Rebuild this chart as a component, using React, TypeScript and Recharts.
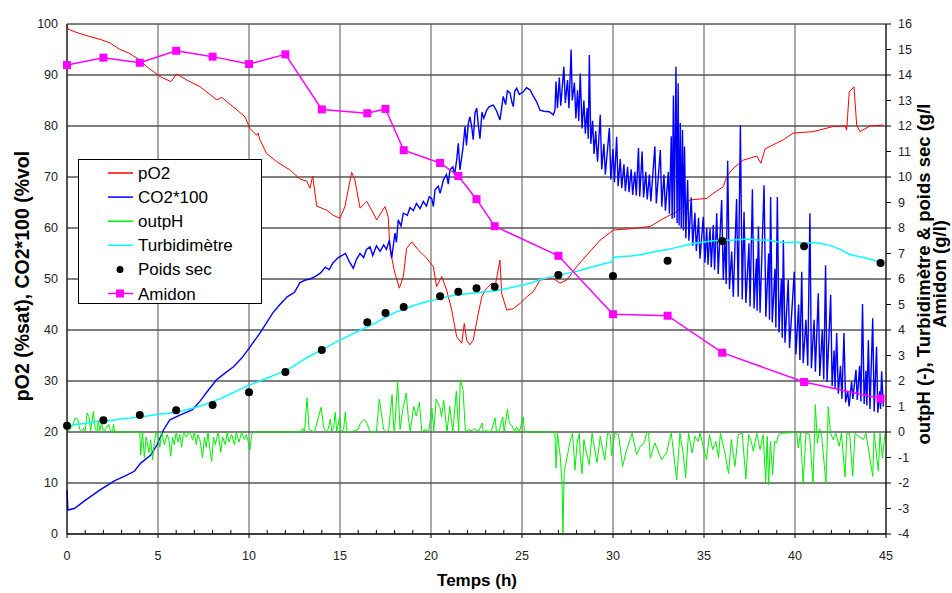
import {
  CartesianGrid,
  ComposedChart,
  Legend,
  Line,
  Scatter,
  XAxis,
  YAxis,
} from "recharts";

type Pt = [number, number];

// axis ticks
const hourTicks = [
  0, 1, 2, 3, 4, 5, 6, 7, 8, 9, 10, 11, 12, 13, 14, 15, 16, 17, 18, 19, 20, 21, 22,
  23, 24, 25, 26, 27, 28, 29, 30, 31, 32, 33, 34, 35, 36, 37, 38, 39, 40, 41, 42, 43,
  44, 45,
];
const majorHours = [0, 5, 10, 15, 20, 25, 30, 35, 40, 45];
const leftTicks = [0, 10, 20, 30, 40, 50, 60, 70, 80, 90, 100];
const rightTicks = [-4, -3, -2, -1, 0, 1, 2, 3, 4, 5, 6, 7, 8, 9, 10, 11, 12, 13, 14, 15, 16];

// pO2 (%sat), left axis
const po2: Pt[] = [
  [0, 100], [0.05, 99], [0.55, 98.3], [1.2, 97.6], [1.81, 97], [2.36, 96.3], [2.91, 95],
  [3.4, 94.3], [3.85, 93.3], [4.4, 91.6], [5.11, 89.7], [5.71, 88.7], [6.03, 90.2],
  [6.59, 89], [7.31, 87.7], [8.24, 85.1], [8.5, 85.6], [9.12, 83.8], [9.78, 81.8],
  [10.05, 79.5], [10.42, 78.2], [10.5, 78.6], [10.6, 77.3], [10.97, 74.6], [11.52, 73],
  [12.25, 71.4], [12.8, 69.6], [13.17, 69.2], [13.35, 67.8], [13.5, 70.2], [13.72, 64.3],
  [14.27, 63.5], [14.62, 62.5], [15.0, 61.9], [15.27, 64.2], [15.64, 70.9], [15.82, 69.4],
  [16.1, 63.9], [16.47, 65.2], [16.74, 63.5], [17.02, 61.6], [17.47, 64.2], [17.65, 62.2],
  [17.75, 55.7], [18.02, 51.1], [18.26, 48.2], [18.48, 50.5], [18.66, 56], [18.94, 57.3],
  [19.3, 55.7], [19.76, 54.1], [20.13, 52.4], [20.31, 48.5], [20.59, 50.5], [20.86, 47.8],
  [21.14, 43.9], [21.41, 38.7], [21.69, 37.4], [21.83, 41.3], [21.96, 38], [22.14, 37.1],
  [22.32, 38], [22.6, 43.3], [22.79, 46.5], [22.97, 47.8], [23.34, 49.2], [23.52, 48.5],
  [23.79, 53.7], [23.88, 47.2], [24.16, 43.9], [24.52, 44.2], [24.89, 45.2], [25.26, 46.5],
  [25.62, 47.5], [25.99, 49.8], [26.72, 50.1], [27.09, 49.2], [27.46, 49.8], [28.0, 52.4],
  [28.56, 54.7], [29.29, 57.6], [30.02, 59.6], [31.12, 59.9], [32.03, 60.3], [32.95, 62.2],
  [33.5, 63.2], [34.23, 65.5], [35.15, 65.8], [35.51, 66.8], [36.06, 68.1], [36.25, 70.1],
  [36.61, 71.7], [37.16, 73.3], [37.9, 74.1], [38.13, 72.7], [38.35, 75.5], [39.36, 77.3],
  [39.9, 78.6], [41.0, 78.9], [42.1, 79.9], [42.75, 80], [42.84, 79.2], [42.98, 86.7],
  [43.24, 87.7], [43.39, 80.2], [43.57, 78.9], [44.12, 80], [44.85, 80.2],
];

// CO2*100 (%vol), left axis
const co2: Pt[] = [
  [0, 8.6], [0.05, 4.7], [0.4, 5.0], [1.0, 6.6], [1.8, 8.6], [2.6, 10.4], [3.2, 11.4],
  [3.7, 12.3], [4.05, 13.9], [4.6, 15.5], [4.95, 17.5], [5.3, 20.4], [5.65, 22.4],
  [6.2, 23.3], [6.9, 24.4], [7.3, 26], [7.7, 27.9], [8.2, 30.2], [8.7, 31.6], [9.15, 32.8],
  [9.6, 34.5], [10.0, 36.4], [10.6, 39.4], [11.3, 43.3], [11.7, 45], [12.1, 46.5],
  [12.5, 47.4], [12.8, 49.3], [13.1, 49.8], [13.35, 50], [13.6, 50.4], [13.9, 51.1],
  [14.2, 52.3], [14.4, 51.8], [14.6, 53.1], [14.9, 54.2], [15.1, 54.6], [15.3, 55.0],
  [15.5, 53.5], [15.73, 52.1], [15.9, 53.8], [16.1, 55], [16.3, 54.2], [16.45, 55.8],
  [16.65, 56.3], [16.8, 54.6], [17.0, 56.5], [17.2, 55.4], [17.4, 56.7], [17.55, 55.8],
  [17.71, 57.6], [17.84, 54.1], [18.02, 59], [18.1, 57.2], [18.2, 61.6], [18.35, 60.4],
  [18.48, 62.9], [18.7, 62.5], [18.85, 64.0], [19.03, 63.4], [19.2, 64.8], [19.4, 63.8],
  [19.58, 65.2], [19.75, 64.3], [19.9, 66.1], [20.04, 65.8], [20.13, 64.2], [20.22, 67.5],
  [20.4, 68.2], [20.5, 66.8], [20.68, 69.4], [20.85, 70.5], [20.95, 68.6], [21.04, 71.4],
  [21.2, 72], [21.3, 70.5], [21.41, 73.3], [21.5, 76.6], [21.59, 71.4], [21.75, 75.5],
  [21.87, 79.9], [21.95, 76.2], [22.05, 80.5], [22.14, 81.8], [22.25, 79.5], [22.32, 77.3],
  [22.42, 82.6], [22.51, 83.5], [22.6, 80.2], [22.69, 77.5], [22.8, 82.7], [22.9, 81.5],
  [23.06, 83.1], [23.2, 83.8], [23.42, 84.1], [23.6, 83], [23.79, 81.2], [23.97, 85.8],
  [24.1, 84.2], [24.2, 86.9], [24.34, 86.5], [24.45, 84.6], [24.52, 83.8], [24.6, 86.8],
  [24.71, 87.4], [24.85, 86.2], [25.07, 86.7], [25.25, 87.5], [25.44, 87.1], [25.6, 86],
  [25.81, 84.7], [25.99, 83.1], [26.2, 82.9], [26.5, 82.8], [26.72, 82.2], [26.81, 83.1],
  [26.87, 88.7], [26.95, 83.5], [27.05, 89.5], [27.13, 84], [27.3, 91.6], [27.38, 84.5],
  [27.5, 89], [27.58, 83.5], [27.7, 95], [27.76, 85], [27.88, 88.5], [27.96, 81.5],
  [28.05, 87], [28.12, 81], [28.2, 90.3], [28.3, 79.5], [28.4, 85], [28.48, 78.5],
  [28.58, 83.5], [28.64, 77.5], [28.7, 93.9], [28.78, 76.5], [28.88, 81], [28.96, 74.5],
  [29.05, 79], [29.15, 73], [29.3, 82.2], [29.38, 71.5], [29.5, 76.5], [29.58, 70.5],
  [29.8, 79.6], [29.88, 69.5], [30.0, 75.5], [30.08, 69], [30.2, 77.9], [30.28, 68.2],
  [30.4, 73.5], [30.48, 67.8], [30.6, 72.5], [30.68, 67.2], [30.8, 72], [30.88, 67],
  [31.0, 71.5], [31.08, 66.5], [31.2, 71], [31.28, 66.4], [31.4, 75.7], [31.47, 66.2],
  [31.6, 75], [31.68, 66], [31.8, 71], [31.88, 65.6], [32.0, 70.5], [32.08, 65.2],
  [32.3, 76], [32.38, 64.8], [32.6, 75.3], [32.68, 64.2], [32.8, 70.5], [32.88, 63.4],
  [33.04, 71], [33.1, 62.8], [33.2, 78], [33.25, 61.8], [33.32, 86], [33.37, 62],
  [33.46, 91.6], [33.52, 61], [33.58, 88.4], [33.63, 60.5], [33.7, 80.6], [33.75, 60],
  [33.82, 79.2], [33.87, 59.5], [33.93, 76], [34.0, 58], [34.1, 69.4], [34.17, 57.5],
  [34.3, 66], [34.38, 56.5], [34.5, 63], [34.58, 55.5], [34.7, 62], [34.78, 54],
  [34.96, 62.2], [35.05, 53.2], [35.15, 60], [35.22, 52.8], [35.33, 59.9], [35.4, 52.3],
  [35.51, 60.6], [35.58, 51.8], [35.7, 62.9], [35.78, 51], [35.97, 65.5], [36.06, 49.8],
  [36.15, 58], [36.22, 49], [36.3, 73.2], [36.4, 48], [36.52, 55.4], [36.61, 46.5],
  [36.79, 65.7], [36.88, 46.5], [37.0, 80.2], [37.1, 46], [37.2, 63.2], [37.3, 45.3],
  [37.47, 57], [37.53, 44.6], [37.66, 67.6], [37.75, 44.2], [37.88, 54], [37.92, 43.8],
  [37.99, 60.3], [38.08, 43.4], [38.3, 68.4], [38.4, 42.6], [38.55, 55], [38.6, 42],
  [38.66, 66.1], [38.75, 41.5], [38.9, 52], [38.95, 40.5], [39.03, 66.1], [39.12, 39.5],
  [39.25, 50], [39.3, 38.5], [39.36, 57.6], [39.45, 37.5], [39.63, 49.8], [39.7, 36.5],
  [39.96, 51.4], [40.05, 35.2], [40.2, 45], [40.27, 34.1], [40.37, 51.4], [40.45, 33.5],
  [40.6, 42], [40.7, 33], [40.82, 62.9], [40.9, 32.5], [41.05, 42], [41.12, 31.8],
  [41.28, 47.2], [41.36, 31], [41.5, 40], [41.58, 30.3], [41.68, 52.7], [41.76, 29.8],
  [41.96, 46.9], [42.04, 29], [42.15, 36], [42.2, 28.5], [42.29, 39.4], [42.38, 27.5],
  [42.5, 33], [42.58, 26.5], [42.69, 39.4], [42.78, 25.8], [42.9, 28], [42.97, 25],
  [43.11, 29.9], [43.18, 26.5], [43.35, 32.2], [43.42, 26.3], [43.55, 33], [43.62, 26],
  [43.71, 45.1], [43.8, 25.5], [43.9, 32], [43.95, 25.2], [44.03, 38], [44.12, 24.5],
  [44.27, 42.3], [44.35, 24], [44.48, 36.7], [44.55, 23.8], [44.65, 28], [44.7, 24.5],
  [44.76, 31.9], [44.85, 25],
];

// outpH (-), right axis
const outpH: Pt[] = [
  [0, 0], [0.15, 0.1], [0.3, 0.25], [0.45, 0.55], [0.6, 0.5], [0.7, 0.1], [0.8, 0],
  [0.9, 0.15], [1.0, 0.05], [1.1, 0.75], [1.2, 0.6], [1.3, 0.05], [1.45, 0.8], [1.55, 0.15],
  [1.65, 0], [1.72, 0.45], [1.8, 0.05], [1.9, 0.35], [2.0, 0], [2.15, 0.15], [2.3, 0.3],
  [2.4, 0], [2.5, 0], [2.55, 0.3], [2.62, 0], [4.0, 0],
  [4.05, -0.9], [4.15, 0], [4.25, -1.0], [4.35, -0.2], [4.5, -0.8], [4.6, -0.3], [4.7, -1.1],
  [4.8, -0.4], [4.9, 0], [5.0, -0.2], [5.1, -0.6], [5.2, 0], [5.35, -0.5], [5.5, -0.1],
  [5.6, -0.3], [5.7, -0.95], [5.8, -0.2], [5.9, -0.5], [6.0, 0], [6.1, -0.4], [6.2, -0.1],
  [6.3, -0.6], [6.4, 0], [6.55, -0.2], [6.7, 0], [6.8, -0.1], [6.9, -0.3], [7.0, 0],
  [7.1, -0.5], [7.2, -0.1], [7.3, -0.3], [7.45, -1.0], [7.55, -0.2], [7.65, -0.6], [7.75, 0],
  [7.85, -0.7], [7.95, -1.15], [8.05, -0.2], [8.15, -0.5], [8.3, 0], [8.45, -0.8],
  [8.55, -0.2], [8.7, -0.5], [8.8, 0], [8.9, -0.4], [9.05, -0.1], [9.2, -0.5], [9.3, 0],
  [9.45, -0.4], [9.6, 0], [9.75, -0.3], [9.85, -0.1], [10.0, -0.5], [10.05, -0.7],
  [10.15, -0.1], [10.25, 0], [12.8, 0],
  [12.95, 0.15], [13.05, 0], [13.19, 1.33], [13.3, 0.1], [13.45, 0.05], [13.6, 0],
  [13.96, 0.97], [14.1, 0.2], [14.2, 0], [14.35, 0.1], [14.47, 0.5], [14.55, 0], [14.65, 0.2],
  [14.74, 0.77], [14.82, 0], [14.98, 0.58], [15.05, 0], [15.2, 0.1], [15.29, 0.77],
  [15.38, 0], [15.57, 0], [16.0, 0.1], [16.12, 0.35], [16.3, 0.48], [16.45, 0.4], [16.6, 0.1],
  [16.67, 0], [17.0, 0], [17.16, 1.29], [17.3, 0.6], [17.4, 0.1], [17.55, 0], [17.67, 0.05],
  [17.86, 1.46], [17.95, 0.2], [17.99, 0], [18.17, 1.99], [18.3, 0.1], [18.45, 0.9],
  [18.64, 1.53], [18.75, 0.6], [18.86, 0], [19.05, 1.0], [19.19, 0.62], [19.36, 1.16],
  [19.5, 0], [19.69, 0.1], [19.87, 0], [20.05, 0.94], [20.15, 0.03], [20.29, 1.29],
  [20.4, 1.1], [20.48, 1.0], [20.58, 0.6], [20.7, 1.24], [20.88, 0], [21.03, 1.0], [21.2, 0],
  [21.39, 1.6], [21.52, 0], [21.61, 2.05], [21.76, 1.66], [21.89, 0], [22.07, 0.1],
  [22.2, 0.05], [22.34, 0.12], [22.5, 0.08], [22.62, 0.03], [22.8, 0.35], [22.88, 0],
  [23.0, 0.05], [23.3, 0], [23.52, 0.55], [23.6, 0], [23.75, 0.05], [23.94, 0.59], [24.02, 0],
  [24.2, 0.9], [24.3, 0.35], [24.45, 0.25], [24.6, 0], [24.7, 0.2], [24.85, 0], [25.07, 0.59],
  [25.13, 0], [26.81, 0],
  [26.87, -1.41], [26.95, -0.05], [27.1, -0.95], [27.2, -2.0], [27.25, -4.0], [27.32, -1.48],
  [27.4, -1.28], [27.64, -0.37], [27.78, -0.05], [27.91, -1.48], [28.03, -0.43],
  [28.15, -0.05], [28.2, -0.95], [28.3, -1.63], [28.4, -0.3], [28.5, -0.7], [28.7, -1.28],
  [28.85, -0.05], [29.12, -1.2], [29.3, -0.17], [29.55, -1.1], [29.7, -0.05], [29.85, -0.1],
  [29.92, -0.93], [30.1, -0.05], [30.3, -0.1], [30.53, -1.35], [30.7, -0.82], [30.9, -0.37],
  [31.05, -0.05], [31.3, -0.89], [31.5, -0.56], [31.7, -0.43], [31.85, -0.05], [31.95, 0],
  [32.05, -1.02], [32.3, -0.43], [32.67, -1.08], [32.95, -0.82], [33.1, -0.3], [33.2, -0.05],
  [33.5, -1.87], [33.68, -0.05], [33.85, -0.82], [33.99, -1.8], [34.15, -0.05],
  [34.35, -0.82], [34.5, -0.17], [34.68, -0.37], [34.78, -0.05], [35.0, -0.69],
  [35.14, -1.08], [35.3, -0.1], [35.48, -0.69], [35.65, -0.37], [35.8, -1.02], [35.9, -0.05],
  [36.15, -0.82], [36.35, -1.63], [36.5, -0.3], [36.7, -1.35], [36.88, -0.1], [37.1, -0.05],
  [37.3, -1.84], [37.45, -0.1], [37.6, -0.37], [37.71, -0.76], [37.9, -0.05], [38.08, -0.69],
  [38.25, -0.1], [38.39, -1.97], [38.47, -0.17], [38.55, -2.07], [38.65, -0.37],
  [38.77, -1.67], [38.88, -0.37], [38.98, -0.43], [39.1, -0.1], [39.3, -0.05], [40.09, 0],
  [40.18, -0.63], [40.3, -0.05], [40.45, -2.05], [40.6, -0.05], [40.8, -0.1], [40.99, -2.05],
  [41.12, 1.07], [41.23, -0.43], [41.35, 0.12], [41.45, -0.05], [41.7, -2.0], [41.83, 0.98],
  [41.95, -0.05], [42.1, -0.3], [42.25, -0.05], [42.43, -0.56], [42.55, -0.05],
  [42.75, -1.76], [42.85, -0.05], [43.0, -0.05], [43.17, -1.74], [43.3, -0.05],
  [43.75, -0.3], [43.9, -0.05], [44.27, -1.74], [44.35, -0.05], [44.58, -1.54],
  [44.67, -0.05], [44.8, -1.02], [44.95, -0.05],
];

// Turbidimètre, right axis
const turbidity: Pt[] = [
  [0, 0.21], [0.5, 0.3], [1, 0.33], [1.5, 0.4], [2, 0.42], [2.5, 0.46], [3, 0.52],
  [3.5, 0.55], [4, 0.59], [4.5, 0.64], [5, 0.7], [5.5, 0.73], [6, 0.78], [6.5, 0.86],
  [7, 0.95], [7.5, 1.06], [8, 1.19], [8.5, 1.33], [9, 1.5], [9.5, 1.67], [10, 1.84],
  [10.5, 1.97], [11, 2.12], [11.5, 2.26], [12, 2.4], [12.5, 2.6], [13, 2.84], [13.5, 3.04],
  [14, 3.22], [14.5, 3.42], [15, 3.6], [15.5, 3.78], [16, 3.95], [16.5, 4.12], [17, 4.3],
  [17.5, 4.5], [18, 4.68], [18.5, 4.82], [19, 4.95], [19.5, 5.06], [20, 5.15], [20.5, 5.24],
  [21, 5.32], [21.5, 5.38], [22, 5.42], [22.5, 5.46], [23, 5.5], [23.5, 5.53], [24, 5.6],
  [24.5, 5.68], [25, 5.76], [25.5, 5.84], [26, 5.98], [26.5, 6.06], [27, 6.15], [27.5, 6.22],
  [28, 6.3], [28.5, 6.4], [29, 6.5], [29.5, 6.6], [29.9, 6.66], [30.05, 6.85], [30.5, 6.88],
  [31, 6.9], [31.5, 6.95], [32, 7.03], [32.5, 7.1], [33, 7.16], [33.5, 7.24], [34, 7.32],
  [34.5, 7.4], [35, 7.45], [35.5, 7.5], [36, 7.52], [36.5, 7.52], [37, 7.55], [37.5, 7.57],
  [38, 7.52], [38.5, 7.53], [39, 7.46], [39.5, 7.42], [40, 7.45], [40.5, 7.4], [41, 7.43],
  [41.5, 7.38], [42, 7.3], [42.5, 7.15], [43, 6.96], [43.5, 6.88], [44, 6.8], [44.5, 6.7],
  [44.7, 6.62],
];

// Poids sec (g/l), right axis
const dryWeight: Pt[] = [
  [0, 0.25], [2, 0.46], [4, 0.67], [6, 0.85], [8, 1.06], [10, 1.56], [12, 2.35], [14, 3.22],
  [16.5, 4.3], [17.5, 4.67], [18.5, 4.9], [20.5, 5.32], [21.5, 5.5], [22.5, 5.64],
  [23.5, 5.7], [27, 6.16], [30, 6.12], [33, 6.72], [36, 7.49], [40.5, 7.28], [44.7, 6.63],
];

// Amidon (g/l), right axis
const starch: Pt[] = [
  [0, 14.39], [2, 14.68], [4, 14.48], [6, 14.95], [8, 14.72], [10, 14.43], [12, 14.81],
  [14, 12.65], [16.5, 12.5], [17.5, 12.67], [18.5, 11.05], [20.5, 10.55], [21.5, 10.04],
  [22.5, 9.13], [23.5, 8.07], [27, 6.91], [30, 4.62], [33, 4.56], [36, 3.11], [40.5, 1.96],
  [44.7, 1.31],
];

const RED = "#ff0000";
const BLUE = "#0000ff";
const GREEN = "#00ee00";
const CYAN = "#00ffff";
const MAGENTA = "#ff00ff";
const FONT = "'Liberation Sans', Arial, sans-serif";

const rows = (pts: Pt[]) => pts.map(([h, v]) => ({ h, v }));

function HourTick({ x, y, payload }: any) {
  const major = payload.value % 5 === 0;
  return (
    <g>
      <line x1={x} x2={x} y1={major ? y : y - 4} y2={major ? y + 4 : y} stroke="#000" />
      {major && (
        <text x={x} y={y + 26} textAnchor="middle" fontSize={12.5} fill="#222" fontFamily={FONT}>
          {payload.value}
        </text>
      )}
    </g>
  );
}

function StarchSquare(props: any) {
  const { cx, cy, index } = props;
  return <rect key={`sq-${index}`} x={cx - 4} y={cy - 4} width={8} height={8} fill={MAGENTA} />;
}

function DryDot(props: any) {
  return <circle cx={props.cx} cy={props.cy} r={4} fill="#000" />;
}

const legendItems = [
  { name: "pO2", color: RED, kind: "line" },
  { name: "CO2*100", color: BLUE, kind: "line" },
  { name: "outpH", color: GREEN, kind: "line" },
  { name: "Turbidimètre", color: CYAN, kind: "line" },
  { name: "Poids sec", color: "#000", kind: "dot" },
  { name: "Amidon", color: MAGENTA, kind: "square" },
];

function LegendBox() {
  return (
    <svg width={185} height={146} style={{ display: "block" }}>
      <rect x={0.5} y={0.5} width={183} height={144} fill="#fff" stroke="#000" />
      {legendItems.map((item, i) => {
        const y = 14 + i * 24.1;
        return (
          <g key={item.name}>
            {item.kind !== "dot" && (
              <line x1={30} x2={55} y1={y} y2={y} stroke={item.color} strokeWidth={1.5} />
            )}
            {item.kind === "dot" && <circle cx={42} cy={y} r={3.5} fill="#000" />}
            {item.kind === "square" && (
              <rect x={38} y={y - 4} width={8} height={8} fill={item.color} />
            )}
            <text x={60} y={y + 6} fontSize={17} fontFamily={FONT} fill="#000">
              {item.name}
            </text>
          </g>
        );
      })}
    </svg>
  );
}

export default function App() {
  return (
    <div style={{ position: "absolute", left: 0, top: 0, width: 952, height: 593, background: "#fff" }}>
      <ComposedChart width={952} height={593} margin={{ top: 24, right: 0, bottom: 0, left: 0 }}>
        <CartesianGrid yAxisId="left" vertical={false} stroke="#000" />
        <CartesianGrid yAxisId="left" horizontal={false} verticalValues={majorHours} stroke="#555" />
        <XAxis
          dataKey="h"
          type="number"
          domain={[0, 45]}
          ticks={hourTicks}
          interval={0}
          height={59}
          tickSize={0}
          tickMargin={0}
          tickLine={false}
          tick={<HourTick />}
          axisLine={{ stroke: "#000" }}
        />
        <YAxis
          yAxisId="left"
          type="number"
          domain={[0, 100]}
          ticks={leftTicks}
          interval={0}
          width={67}
          tickSize={0}
          tickMargin={9}
          tickLine={false}
          axisLine={{ stroke: "#000" }}
          tick={{ fontSize: 12.5, fill: "#222", fontFamily: FONT }}
        />
        <YAxis
          yAxisId="right"
          orientation="right"
          type="number"
          domain={[-4, 16]}
          ticks={rightTicks}
          interval={0}
          width={66}
          tickSize={5}
          tickMargin={7}
          tickLine={{ stroke: "#000" }}
          axisLine={{ stroke: "#000" }}
          tick={{ fontSize: 12.5, fill: "#222", fontFamily: FONT, textAnchor: "start" }}
        />
        <Line yAxisId="left" data={rows(po2)} dataKey="v" stroke={RED} strokeWidth={1} dot={false} isAnimationActive={false} />
        <Line yAxisId="left" data={rows(co2)} dataKey="v" stroke={BLUE} strokeWidth={1.4} dot={false} isAnimationActive={false} />
        <Line yAxisId="right" data={rows(outpH)} dataKey="v" stroke={GREEN} strokeWidth={1} dot={false} isAnimationActive={false} />
        <Line yAxisId="right" data={rows(turbidity)} dataKey="v" stroke={CYAN} strokeWidth={1.5} dot={false} isAnimationActive={false} />
        <Scatter yAxisId="right" data={rows(dryWeight)} dataKey="v" shape={<DryDot />} isAnimationActive={false} />
        <Line yAxisId="right" data={rows(starch)} dataKey="v" stroke={MAGENTA} strokeWidth={1.5} dot={StarchSquare} isAnimationActive={false} />
        <Legend
          layout="vertical"
          align="center"
          verticalAlign="middle"
          content={() => <LegendBox />}
          wrapperStyle={{ left: 78, top: 159, width: 185, height: 146, lineHeight: 0 }}
        />
      </ComposedChart>
      <svg
        width={952}
        height={593}
        style={{ position: "absolute", left: 0, top: 0, pointerEvents: "none" }}
      >
        <g fontFamily={FONT} fontWeight="bold" fill="#000">
          <text x={28.5} y={276} fontSize={19.5} textAnchor="middle" transform="rotate(-90 28.5 276)">
            pO2 (%sat), CO2*100 (%vol
          </text>
          <text x={930} y={274} fontSize={18.5} textAnchor="middle" transform="rotate(-90 930 274)">
            outpH (-), Turbidimètre &amp; poids sec (g/l
          </text>
          <text x={946} y={274} fontSize={18.5} textAnchor="middle" transform="rotate(-90 946 274)">
            Amidon (g/l)
          </text>
          <text x={477} y={586} fontSize={17} textAnchor="middle">
            Temps (h)
          </text>
        </g>
      </svg>
    </div>
  );
}
